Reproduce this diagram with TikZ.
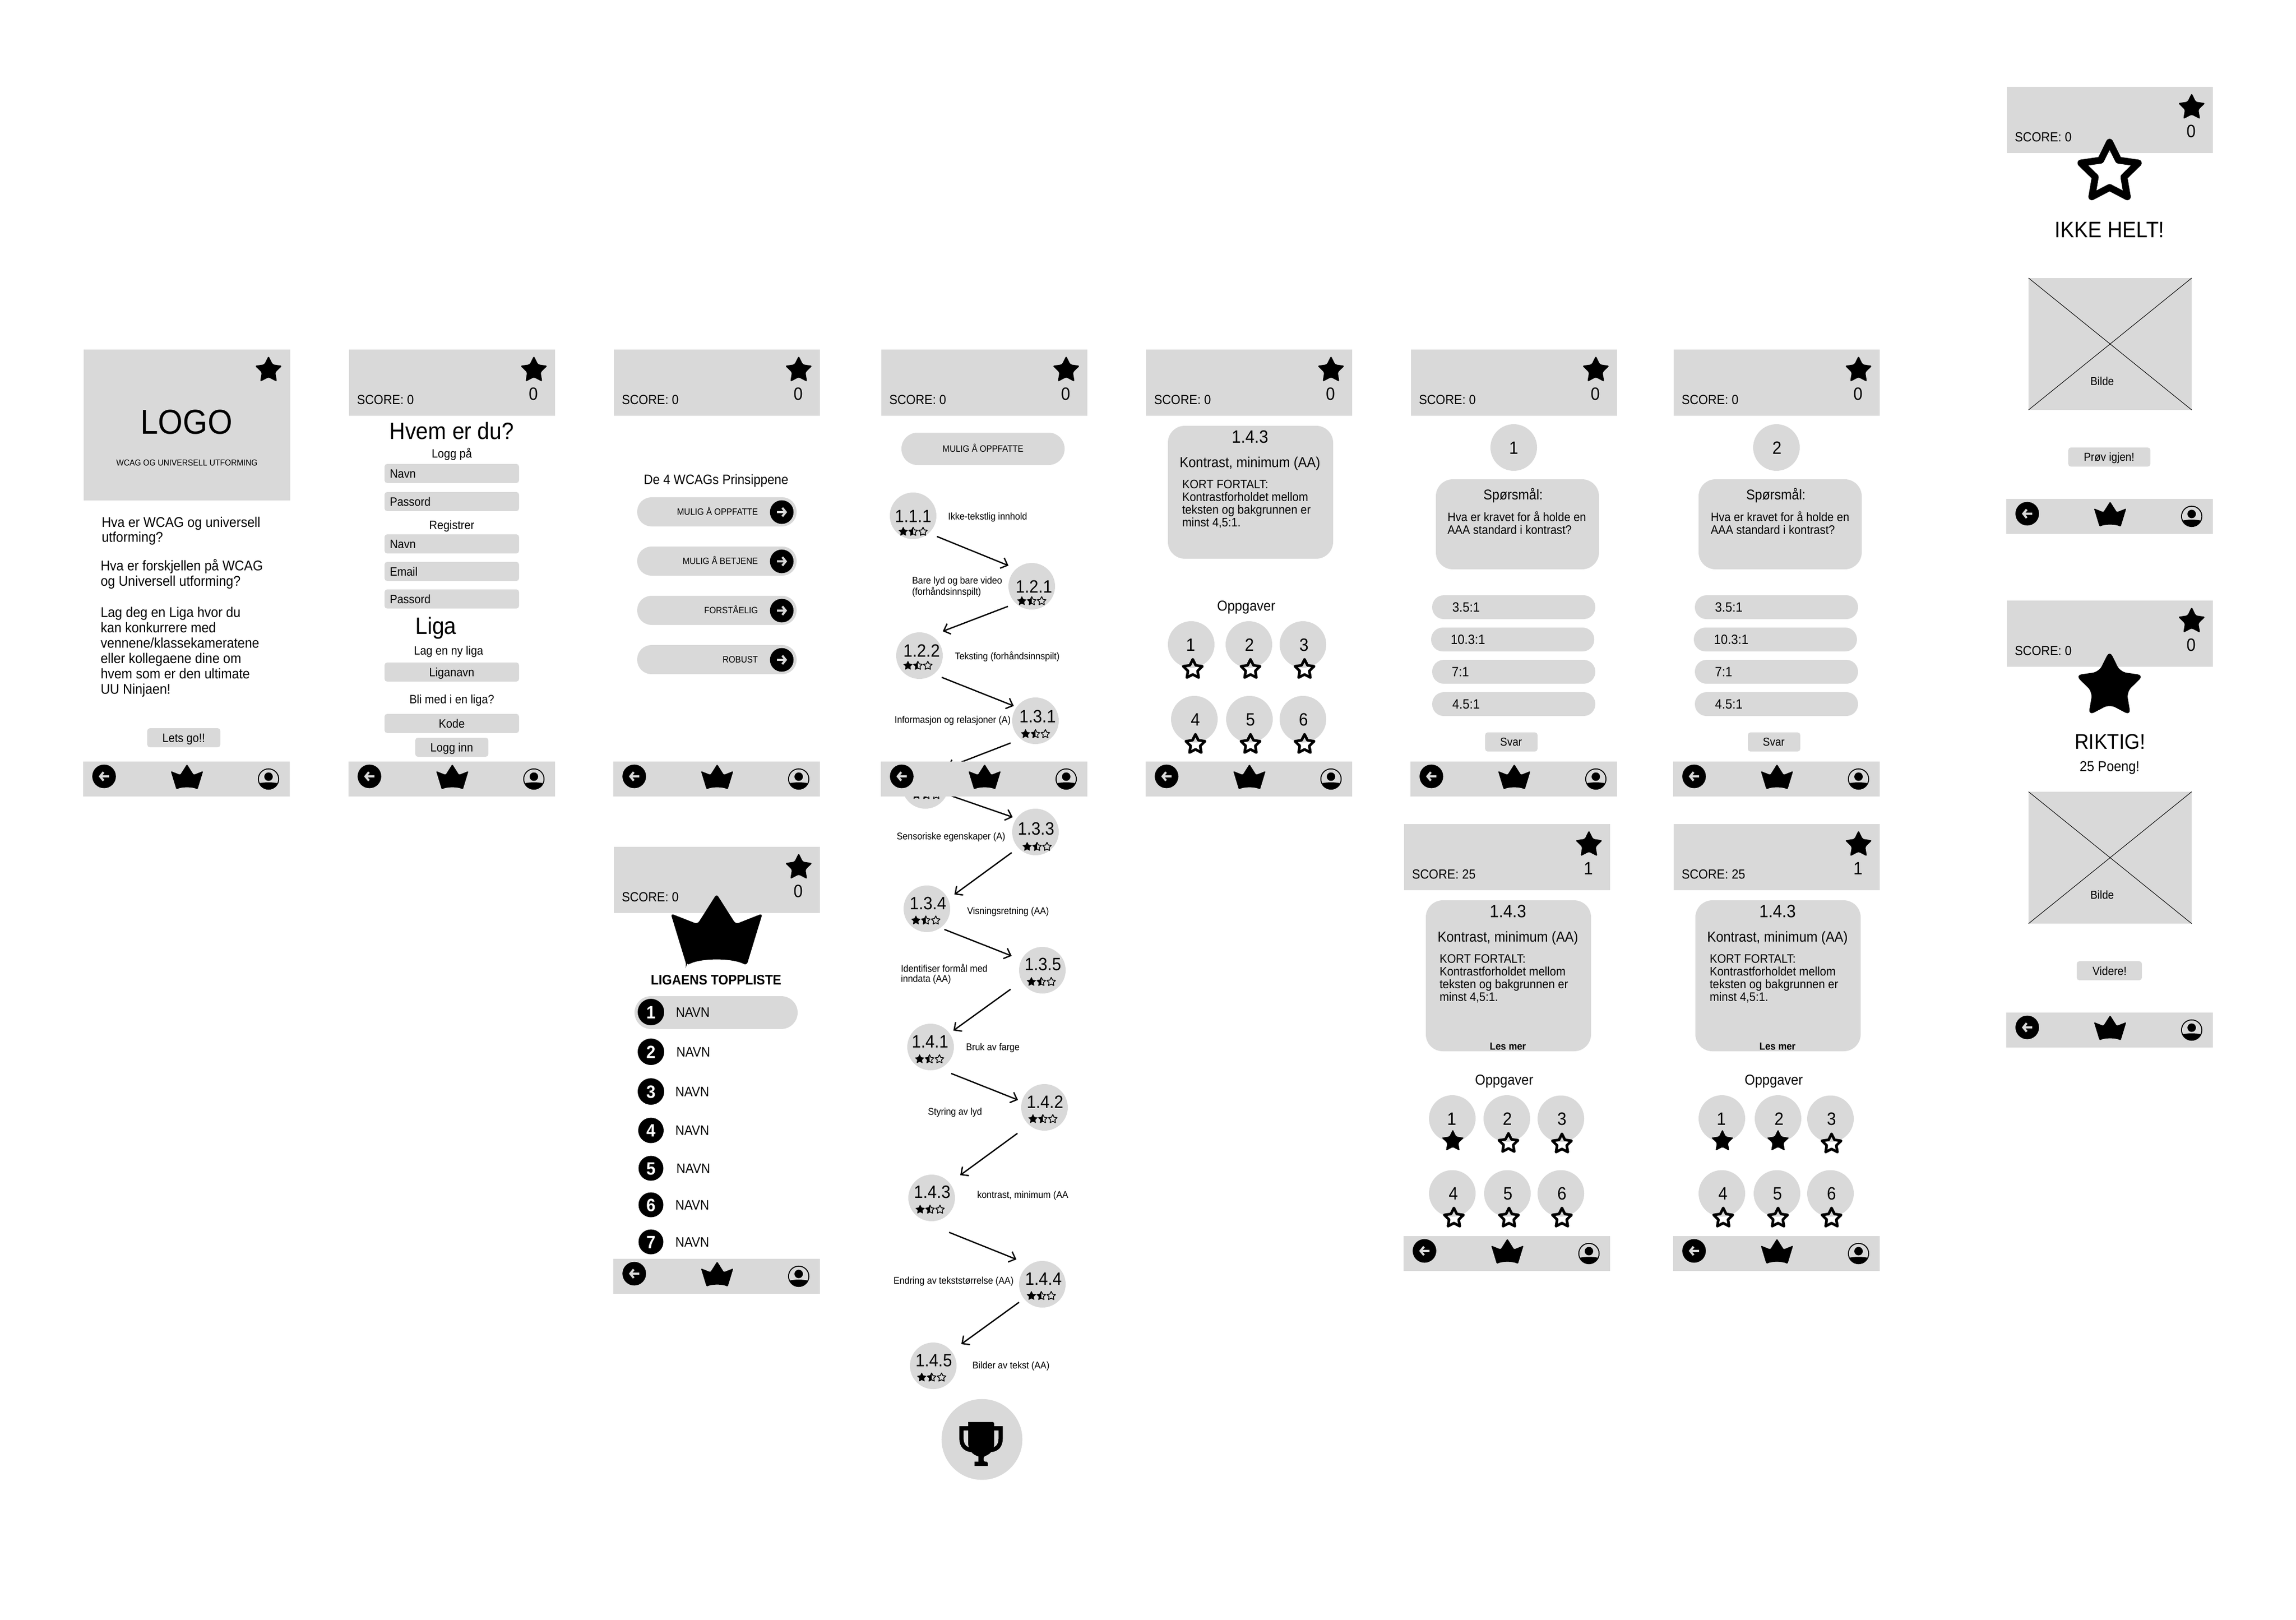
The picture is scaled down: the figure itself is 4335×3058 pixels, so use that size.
\documentclass[tikz,border=0pt]{standalone}
\usepackage{fontspec}
\setmainfont[FakeStretch=0.92]{Liberation Sans}
\usetikzlibrary{arrows.meta,calc}
\definecolor{panel}{HTML}{D9D9D9}
\newcounter{tn}
\tikzset{
  txt/.style={inner sep=0pt,outer sep=0pt,text=black},
  disc/.style={circle,fill=panel,inner sep=0pt,outer sep=0pt,minimum size=88pt},
  numdisc/.style={circle,fill=black,inner sep=0pt,outer sep=0pt},
  flowarrow/.style={-{Straight Barb[length=11pt,width=21pt]},line width=2.5pt,black},
  panelfill/.style={fill=panel}
}
\newcommand\FS[2]{\fontsize{\fpeval{#1*1.087}}{#2}\selectfont}
% single line of text: y is the middle of the capitals
\newcommand\Txt[5][base]{\stepcounter{tn}\node[txt,anchor=#1] (t\arabic{tn}) at ({#2},{#3+0.39*#4}) {\FS{#4}{#4}#5};}
% several lines: y is the middle of the first line
\newcommand\Mtxt[6][base west]{\stepcounter{tn}\node[txt,anchor=#1] (t\arabic{tn}) at ({#2},{#3+0.39*#4}) {\FS{#4}{#5}\begin{tabular}[t]{@{}l@{}}#6\end{tabular}};}
\newcommand\StarPath{(-90:1)--(-54:.5)--(-18:1)--(18:.5)--(54:1)--(90:.5)--(126:1)--(162:.5)--(198:1)--(234:.5)--cycle}
\newcommand\StarF[4][2]{\begin{scope}[shift={(#2,#3)},scale=#4]\fill[black,rounded corners=#1pt] \StarPath;\end{scope}}
\newcommand\StarO[4][5]{\begin{scope}[shift={(#2,#3)},scale=#4]\draw[black,line width=#1pt,line join=round] \StarPath;\end{scope}}
\newcommand\StarH[4][1.5]{\begin{scope}[shift={(#2,#3)},scale=#4]
  \begin{scope}\clip (-1.2,-1.2) rectangle (0,1.2);\fill[black] \StarPath;\end{scope}
  \draw[black,line width=#1pt,line join=round] \StarPath;\end{scope}}
\newcommand\TriStars[2]{\StarF[.6]{#1-18.7}{#2+1}{9.5}\StarH{#1}{#2+1}{8.5}\StarO[1.5]{#1+18.7}{#2+1}{8.5}}
\newcommand\Rct[5]{\fill[panel,rounded corners=#5pt] (#1,#2) rectangle (#3,#4);}
\newcommand\Hdr[4]{\begin{scope}[shift={(#1,#2)}]
  \fill[panel] (0,0) rectangle (389,125);
  \StarF[3]{349}{39}{27}
  \Txt{348}{83}{31}{#4}
  \Txt[base west]{15}{95}{23}{SCORE: #3}
\end{scope}}
\newcommand\Crwn[4]{\begin{scope}[shift={(#1,#2)},scale=#3]
  \fill[black,rounded corners=#4pt] (-20,47.5) -- (-30.5,13) -- (-12.7,20) -- (0,0) -- (12.7,20) -- (30.5,13) -- (20,47.5) .. controls (10,42.5) and (-10,42.5) .. cycle;
\end{scope}}
\newcommand\ArrowDisc[3]{\begin{scope}[shift={(#1,#2)},xscale=#3]
  \fill[black] (0,0) circle (22.3pt);
  \draw[panel,line width=4pt] (9.5,0) -- (-6,0);
  \draw[panel,line width=4pt] (-1,-8) -- (-7.5,0) -- (-1,8);
\end{scope}}
\newcommand\BotBar[2]{\begin{scope}[shift={(#1,#2)}]
  \fill[panel] (-1,778) rectangle (389,844);
  \ArrowDisc{38.5}{806}{1}
  \Crwn{195}{783}{1}{1.5}
  \begin{scope}[shift={(349,811)}]
    \draw[black,line width=1.8pt] (0,0) circle (19.2pt);
    \fill[black] (0,-4.5) circle (8pt);
    \clip (0,0) circle (18.8pt);
    \fill[black] (-20,8.5) .. controls (-8,5.5) and (8,5.5) .. (20,8.5) -- (20,20) -- (-20,20) -- cycle;
  \end{scope}
\end{scope}}
\newcommand\FlowTxt[7]{\Txt{#1+#4}{#2+#5}{31}{#3}\TriStars{#1+#6}{#2+#7}}
\newcommand\Task[5]{\stepcounter{tn}\node[disc] (c\arabic{tn}) at (#1,#2) {};\Txt{#3}{#4}{31}{#5}}
\newcommand\Picture[4]{\fill[panel] (#1,#2) rectangle (#3,#4);
  \draw[black,line width=1pt] (#1,#2) -- (#3,#4) (#1,#4) -- (#3,#2);}
\begin{document}
\begin{tikzpicture}[x=1pt,y=-1pt]
\useasboundingbox (0,0) rectangle (4335,3058);

% ---------- Screen 1
\fill[panel] (158,660) rectangle (548,945);
\StarF[3]{507}{699}{27}
\Txt{352}{796}{60}{LOGO}
\Txt{353}{874}{15}{WCAG OG UNIVERSELL UTFORMING}
\Mtxt{192}{985.5}{24.5}{28.7}{Hva er WCAG og universell\\utforming?}
\Mtxt{190}{1068}{24.5}{28.7}{Hva er forskjellen på WCAG\\og Universell utforming?}
\Mtxt{190}{1156}{24.5}{29}{Lag deg en Liga hvor du\\kan konkurrere med\\vennene/klassekameratene\\eller kollegaene dine om\\hvem som er den ultimate\\UU Ninjaen!}
\Rct{278}{1375}{416}{1411}{5}
\Txt{347}{1393}{21}{Lets go!!}
\BotBar{158}{660}

% ---------- Screen 2
\Hdr{659}{660}{0}{0}
\Txt{853}{813}{41}{Hvem er du?}
\Txt{853}{856}{21}{Logg på}
\Rct{726}{876}{980}{912}{5}\Txt[base west]{736}{894}{21}{Navn}
\Rct{726}{929}{980}{965}{5}\Txt[base west]{736}{947}{21}{Passord}
\Txt{853}{991}{21}{Registrer}
\Rct{726}{1009}{980}{1045}{5}\Txt[base west]{736}{1027}{21}{Navn}
\Rct{726}{1061}{980}{1097}{5}\Txt[base west]{736}{1079}{21}{Email}
\Rct{726}{1113}{980}{1149}{5}\Txt[base west]{736}{1131}{21}{Passord}
\Txt{823}{1181}{41}{Liga}
\Txt{847}{1228}{21}{Lag en ny liga}
\Rct{726}{1251}{980}{1287}{5}\Txt{853}{1269}{21}{Liganavn}
\Txt{853}{1320}{21}{Bli med i en liga?}
\Rct{726}{1348}{980}{1384}{5}\Txt{853}{1366}{21}{Kode}
\Rct{784}{1393}{922}{1429}{5}\Txt{853}{1411}{21}{Logg inn}
\BotBar{659}{660}

% ---------- Screen 3
\Hdr{1159}{660}{0}{0}
\Txt{1352}{905}{23.6}{De 4 WCAGs Prinsippene}
\Rct{1203}{939}{1504}{994}{27}\Txt[base east]{1431}{966.5}{16}{MULIG Å OPPFATTE}\ArrowDisc{1476}{967}{-1}
\Rct{1203}{1032}{1504}{1087}{27}\Txt[base east]{1431}{1059.5}{16}{MULIG Å BETJENE}\ArrowDisc{1476}{1060}{-1}
\Rct{1203}{1125}{1504}{1180}{27}\Txt[base east]{1431}{1152.5}{16}{FORSTÅELIG}\ArrowDisc{1476}{1153}{-1}
\Rct{1203}{1218}{1504}{1273}{27}\Txt[base east]{1431}{1245.5}{16}{ROBUST}\ArrowDisc{1476}{1246}{-1}
\BotBar{1159}{660}

% ---------- League screen
\Hdr{1159}{1599}{0}{0}
\Crwn{1353}{1688}{2.84}{6}
\Txt{1352}{1850}{24}{\bfseries LIGAENS TOPPLISTE}
\Rct{1198}{1881}{1506}{1943}{31}
\foreach \yy/\dd/\rr/\nx in {1911/1/25/1276,1986/2/25/1277,2061/3/25/1275,2134.5/4/24/1275,2206/5/23.5/1277,2275/6/23.5/1275,2345/7/23.5/1275}{
  \node[numdisc,minimum size=2*\rr pt] (rank\dd) at (1229,\yy) {};
  \node[txt,anchor=base,text=white] (ranknum\dd) at (1229,{\yy+12}) {\FS{31}{31}\bfseries\dd};
  \node[txt,anchor=base west] (rankname\dd) at (\nx,{\yy+9}) {\FS{23.7}{23.7}NAVN};
}
\BotBar{1159}{1599}

% ---------- Flow screen
\Hdr{1664}{660}{0}{0}
\Rct{1702}{817}{2010}{878}{30}\Txt{1856}{847}{16}{MULIG Å OPPFATTE}
\node[disc] (n111) at (1724,974) {};
\node[disc] (n121) at (1948,1107) {};
\node[disc] (n122) at (1736,1238) {};
\node[disc] (n131) at (1955,1361) {};
\node[disc] (n132) at (1747,1483) {};
\node[disc] (n133) at (1955,1571) {};
\node[disc] (n134) at (1750,1716) {};
\node[disc] (n135) at (1968,1832) {};
\node[disc] (n141) at (1757,1977) {};
\node[disc] (n142) at (1972,2091) {};
\node[disc] (n143) at (1759,2262) {};
\node[disc] (n144) at (1968,2425) {};
\node[disc] (n145) at (1762,2579) {};
\FlowTxt{1724}{974}{1.1.1}{0}{0}{0}{29}
\FlowTxt{1948}{1107}{1.2.1}{4}{0}{0}{27}
\FlowTxt{1736}{1238}{1.2.2}{4}{-10}{-3}{18}
\FlowTxt{1955}{1361}{1.3.1}{4}{-9}{0}{24}
\TriStars{1749}{1500}
\FlowTxt{1955}{1571}{1.3.3}{1}{-7}{3}{27}
\FlowTxt{1750}{1716}{1.3.4}{2}{-11}{-2}{21}
\FlowTxt{1968}{1832}{1.3.5}{1}{-12}{-2}{21}
\FlowTxt{1757}{1977}{1.4.1}{-1}{-11}{-2}{22}
\FlowTxt{1972}{2091}{1.4.2}{1}{-11}{-3}{21}
\FlowTxt{1759}{2262}{1.4.3}{1}{-12}{-3}{21}
\FlowTxt{1968}{2425}{1.4.4}{2}{-11}{-2}{21}
\FlowTxt{1762}{2579}{1.4.5}{1}{-11}{-3}{21}
\draw[flowarrow] ($(n111)+(45,39)$) -- ($(n121)+(-44,-39)$);
\draw[flowarrow] ($(n121)+(-45,38)$) -- ($(n122)+(44,-46)$);
\draw[flowarrow] ($(n122)+(42,41)$) -- ($(n131)+(-41,-28)$);
\draw[flowarrow] ($(n131)+(-47,42)$) -- ($(n132)+(42,-34)$);
\draw[flowarrow] ($(n132)+(38,16)$) -- ($(n133)+(-43,-28)$);
\draw[flowarrow] ($(n133)+(-45,39)$) -- ($(n134)+(52,-27)$);
\draw[flowarrow] ($(n134)+(33,39)$) -- ($(n135)+(-58,-27)$);
\draw[flowarrow] ($(n135)+(-60,36)$) -- ($(n141)+(43,-31)$);
\draw[flowarrow] ($(n141)+(39,50)$) -- ($(n142)+(-50,-14)$);
\draw[flowarrow] ($(n142)+(-51,49)$) -- ($(n143)+(54,-43)$);
\draw[flowarrow] ($(n143)+(33,65)$) -- ($(n144)+(-49,-47)$);
\draw[flowarrow] ($(n144)+(-44,34)$) -- ($(n145)+(53,-41)$);
\Txt[base west]{1790}{975}{17}{Ikke-tekstlig innhold}
\Mtxt{1722}{1096}{17}{19}{Bare lyd og bare video\\(forhåndsinnspilt)}
\Txt[base west]{1803}{1239}{17}{Teksting (forhåndsinnspilt)}
\Txt[base west]{1689}{1359}{17}{Informasjon og relasjoner (A)}
\Txt[base west]{1693}{1578.5}{17}{Sensoriske egenskaper (A)}
\Txt[base west]{1826}{1719.5}{17}{Visningsretning (AA)}
\Mtxt{1701}{1829}{17}{18.5}{Identifiser formål med\\inndata (AA)}
\Txt[base west]{1824}{1977}{17}{Bruk av farge}
\Txt[base west]{1752}{2099}{17}{Styring av lyd}
\Txt[base west]{1845}{2256}{17}{kontrast, minimum (AA}
\Txt[base west]{1687}{2417.5}{17}{Endring av tekststørrelse (AA)}
\Txt[base west]{1836}{2578}{17}{Bilder av tekst (AA)}
\BotBar{1664}{660}
% trophy
\node[disc,minimum size=152.6pt] (trophy) at (1854,2718) {};
\draw[black,line width=8pt] (1830,2697) -- (1815.3,2697) -- (1815.3,2716) .. controls (1815.3,2730) and (1823,2737) .. (1834,2738);
\draw[black,line width=8pt] (1875,2697) -- (1889.3,2697) -- (1889.3,2716) .. controls (1889.3,2730) and (1882,2737) .. (1871,2738);
\fill[black,rounded corners=3pt] (1828,2685) -- (1877,2685) -- (1877,2725) .. controls (1877,2738) and (1868,2747) .. (1857.3,2750) -- (1857.3,2760) -- (1865,2760) [sharp corners] -- (1865,2768) -- (1840,2768) -- (1840,2760) -- (1847.3,2760) -- (1847.3,2750) .. controls (1836,2747) and (1828,2738) .. (1828,2725) -- cycle;

% ---------- Screen 5 (criterion)
\Hdr{2164}{660}{0}{0}
\Rct{2205}{804}{2517}{1055}{32}
\Txt{2360}{824}{31}{1.4.3}
\Txt{2360}{872.5}{25}{Kontrast, minimum (AA)}
\Mtxt{2232}{914}{21.4}{24}{KORT FORTALT:\\Kontrastforholdet mellom\\teksten og bakgrunnen er\\minst 4,5:1.}
\Txt{2353}{1143.5}{25}{Oppgaver}
\Task{2249}{1217}{2248}{1217}{1}\StarO{2252}{1264}{19}
\Task{2358}{1217}{2359}{1217}{2}\StarO{2361}{1264}{19}
\Task{2460}{1217}{2462}{1217}{3}\StarO{2463}{1264}{19}
\Task{2255}{1358}{2257}{1358}{4}\StarO{2257}{1405.5}{19}
\Task{2359}{1358}{2361}{1358}{5}\StarO{2361}{1405.5}{19}
\Task{2460}{1358}{2461}{1358}{6}\StarO{2463}{1405.5}{19}
\BotBar{2164}{660}

% ---------- Screen 6 (question 1)
\Hdr{2664}{660}{0}{0}
\Task{2858}{845}{2858}{845}{1}
\Rct{2711}{905}{3019}{1075}{32}
\Txt{2857}{934}{24.6}{Spørsmål:}
\Mtxt{2733}{976}{21.2}{24}{Hva er kravet for å holde en\\AAA standard i kontrast?}
\Rct{2704}{1124}{3012}{1169}{22}\Txt[base west]{2742}{1146.5}{23.4}{3.5:1}
\Rct{2702}{1185}{3010}{1230}{22}\Txt[base west]{2739}{1207.5}{23.4}{10.3:1}
\Rct{2704}{1246}{3012}{1291}{22}\Txt[base west]{2741}{1268.5}{23.4}{7:1}
\Rct{2704}{1307}{3012}{1352}{22}\Txt[base west]{2742}{1329.5}{23.4}{4.5:1}
\Rct{2804}{1383}{2903}{1419}{5}\Txt{2853}{1401}{20}{Svar}
\BotBar{2664}{660}

% ---------- Screen 7 (question 2)
\Hdr{3160}{660}{0}{0}
\Task{3354}{845}{3355}{845}{2}
\Rct{3207}{905}{3515}{1075}{32}
\Txt{3353}{934}{24.6}{Spørsmål:}
\Mtxt{3230}{976}{21.2}{24}{Hva er kravet for å holde en\\AAA standard i kontrast?}
\Rct{3200}{1124}{3508}{1169}{22}\Txt[base west]{3238}{1146.5}{23.4}{3.5:1}
\Rct{3198}{1185}{3506}{1230}{22}\Txt[base west]{3236}{1207.5}{23.4}{10.3:1}
\Rct{3200}{1246}{3508}{1291}{22}\Txt[base west]{3238}{1268.5}{23.4}{7:1}
\Rct{3200}{1307}{3508}{1352}{22}\Txt[base west]{3238}{1329.5}{23.4}{4.5:1}
\Rct{3300}{1383}{3399}{1419}{5}\Txt{3349}{1401}{20}{Svar}
\BotBar{3160}{660}

% ---------- Screen 8 (score 25, one star)
\Hdr{2651}{1556}{25}{1}
\Rct{2692}{1700}{3004}{1985}{32}
\Txt{2847}{1720}{31}{1.4.3}
\Txt{2847}{1768.5}{25}{Kontrast, minimum (AA)}
\Mtxt{2718}{1810}{21.4}{24}{KORT FORTALT:\\Kontrastforholdet mellom\\teksten og bakgrunnen er\\minst 4,5:1.}
\Txt{2847}{1976}{17.8}{\bfseries Les mer}
\Txt{2840}{2039}{25}{Oppgaver}
\Task{2742}{2112}{2741}{2112}{1}\StarF{2743}{2155}{22}
\Task{2845}{2112}{2846}{2112}{2}\StarO{2848}{2159}{19}
\Task{2947}{2112.5}{2949}{2112.5}{3}\StarO{2949}{2160}{19}
\Task{2742}{2253.5}{2744}{2253.5}{4}\StarO{2745}{2300}{19}
\Task{2846}{2253.5}{2847}{2253.5}{5}\StarO{2849}{2300}{19}
\Task{2947}{2253.5}{2949}{2253.5}{6}\StarO{2949}{2300}{19}
\BotBar{2651}{1556}

% ---------- Screen 9 (score 25, two stars)
\Hdr{3160}{1556}{25}{1}
\Rct{3201}{1700}{3513}{1985}{32}
\Txt{3356}{1720}{31}{1.4.3}
\Txt{3356}{1768.5}{25}{Kontrast, minimum (AA)}
\Mtxt{3228}{1810}{21.4}{24}{KORT FORTALT:\\Kontrastforholdet mellom\\teksten og bakgrunnen er\\minst 4,5:1.}
\Txt{3356}{1976}{17.8}{\bfseries Les mer}
\Txt{3349}{2039}{25}{Oppgaver}
\Task{3251}{2112}{3250}{2112}{1}\StarF{3252}{2155}{22}
\Task{3357}{2112}{3359}{2112}{2}\StarF{3357}{2155}{22}
\Task{3456}{2112.5}{3458}{2112.5}{3}\StarO{3458}{2160}{19}
\Task{3251}{2253.5}{3253}{2253.5}{4}\StarO{3253.5}{2300}{19}
\Task{3355}{2253.5}{3356}{2253.5}{5}\StarO{3357}{2300}{19}
\Task{3456}{2253.5}{3458}{2253.5}{6}\StarO{3458}{2300}{19}
\BotBar{3160}{1556}

% ---------- Right top: IKKE HELT
\Hdr{3789}{164}{0}{0}
\StarO[13]{3983}{325.5}{57}
\Txt{3983}{433}{39}{IKKE HELT!}
\Picture{3830}{525}{4138}{774}
\Txt{3969}{720}{20}{Bilde}
\Rct{3905}{845}{4060}{881}{5}\Txt{3982}{863}{20}{Prøv igjen!}
\BotBar{3789}{164}

% ---------- Right lower: RIKTIG
\Hdr{3789}{1134}{0}{0}
\StarF[12]{3983}{1296}{68}
\Txt{3984}{1400}{37}{RIKTIG!}
\Txt{3983}{1447}{24.8}{25 Poeng!}
\Picture{3830}{1495}{4138}{1744}
\Txt{3969}{1689.5}{20}{Bilde}
\Rct{3921}{1815}{4044}{1851}{5}\Txt{3983}{1833}{20.5}{Videre!}
\BotBar{3789}{1134}
\end{tikzpicture}
\end{document}
